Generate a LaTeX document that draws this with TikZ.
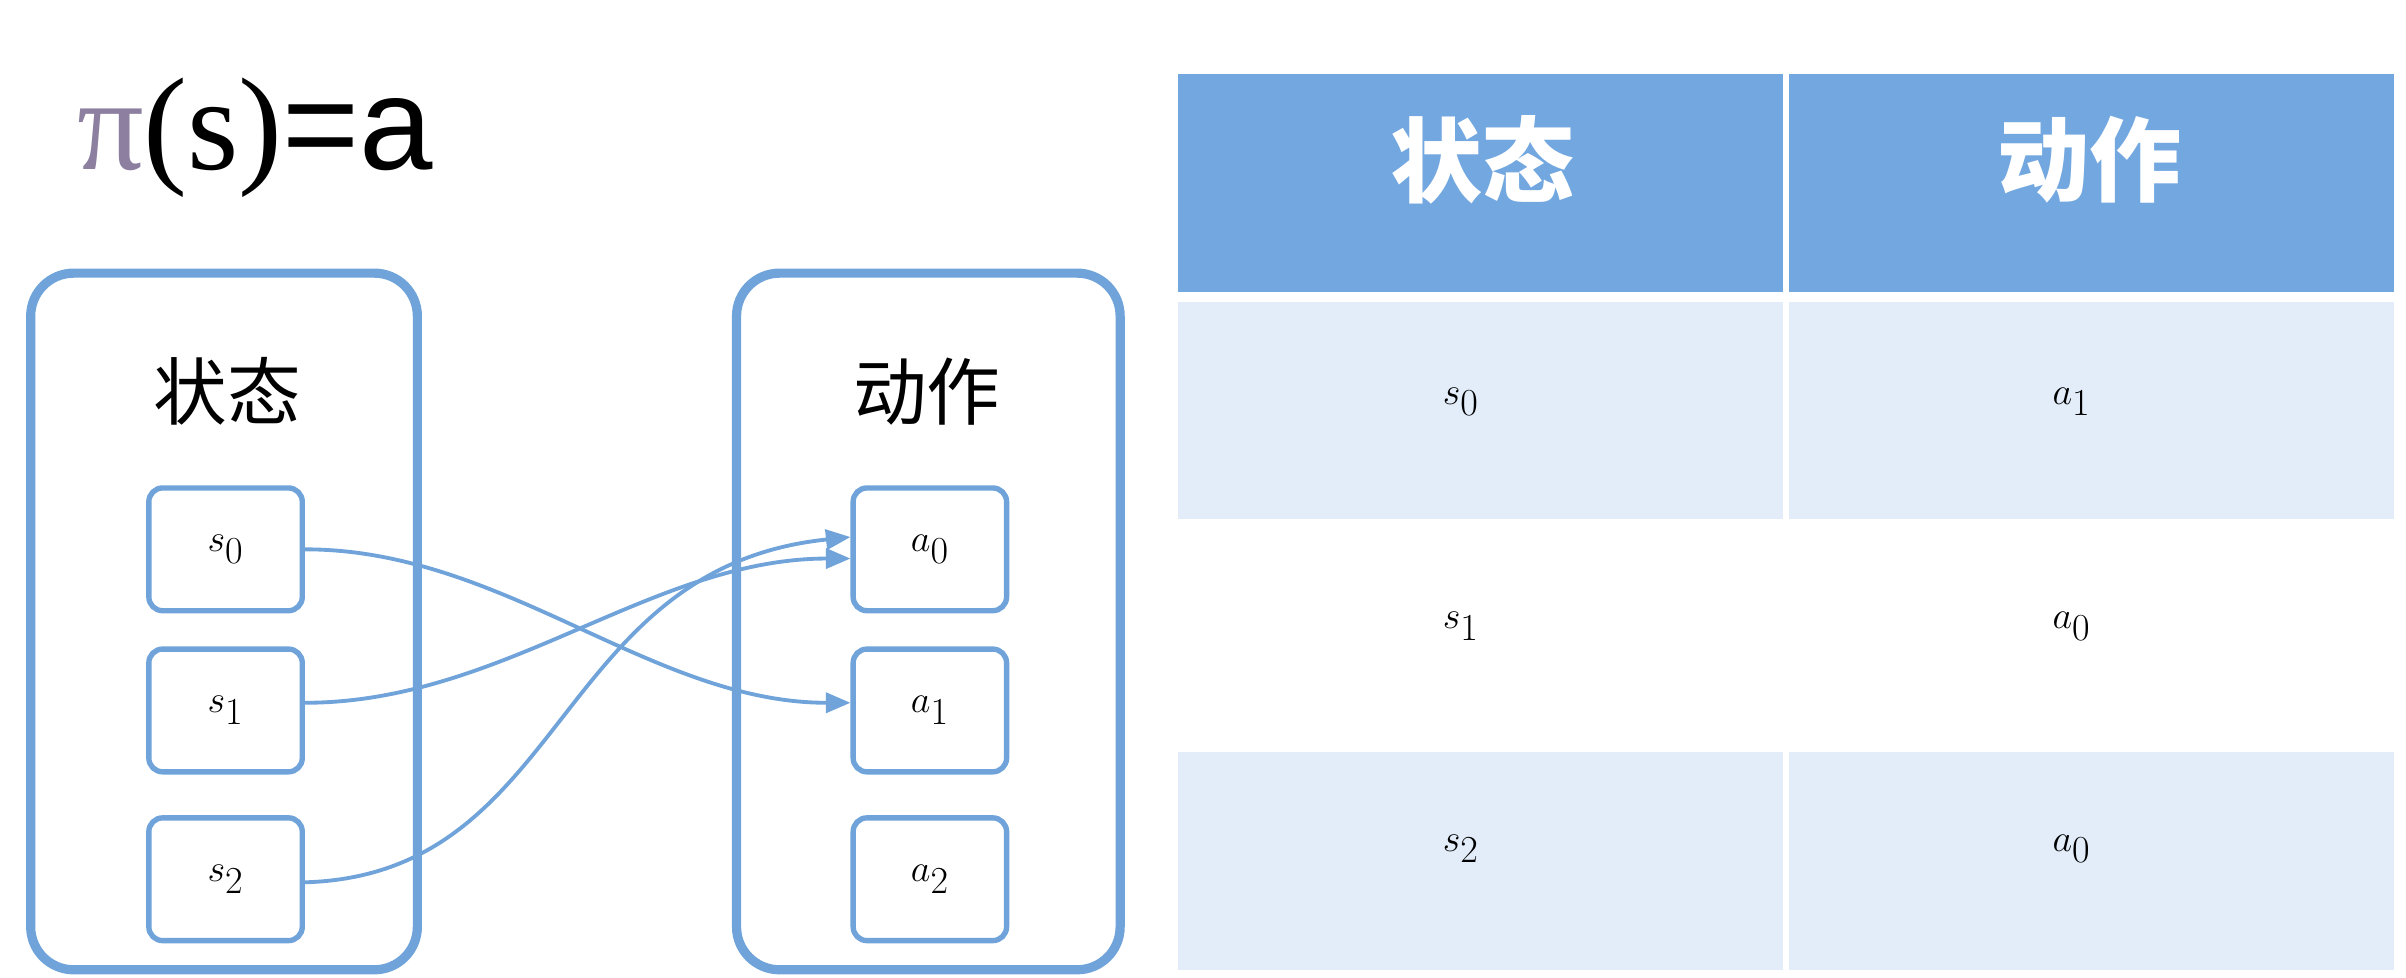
\documentclass[tikz,border=0pt]{standalone}
\usepackage{fontspec}
\usetikzlibrary{arrows.meta}
\setmainfont{Liberation Serif}
\newfontfamily\cjk{Noto Sans CJK SC}
\newfontfamily\lsans{Liberation Sans}
\definecolor{bl}{HTML}{6FA3D9}
\definecolor{hd}{HTML}{72A7E0}
\definecolor{lt}{HTML}{E2EDF9}
\definecolor{pic}{HTML}{8C7FA0}
\begin{document}
\begin{tikzpicture}[x=1pt,y=-1pt,
  bigbox/.style={draw=bl,line width=6pt,rounded corners=28pt},
  itembox/.style={draw=bl,line width=3.5pt,rounded corners=9pt,minimum width=100pt,minimum height=80pt,font=\fontsize{44}{48}\selectfont},
  conn/.style={draw=bl,line width=2.5pt,-{Triangle[length=16pt,width=13pt]}},
  cell/.style={font=\fontsize{80}{84}\selectfont}]
\useasboundingbox (0,0) rectangle (1568,637);
\node[anchor=west,inner sep=0] (title) at (50,90) {\fontsize{86}{90}\selectfont\textcolor{pic}{π}(s)\lsans=a};
\draw[bigbox] (20,178) rectangle (272,632);
\draw[bigbox] (480,178) rectangle (730,632);
\node (lh) at (148,255) {\cjk\fontsize{48}{52}\selectfont 状态};
\node (rh) at (604,255) {\cjk\fontsize{48}{52}\selectfont 动作};
\node[itembox] (s0) at (147,358) {$s_0$};
\node[itembox] (s1) at (147,463) {$s_1$};
\node[itembox] (s2) at (147,573) {$s_2$};
\node[itembox] (a0) at (606,358) {$a_0$};
\node[itembox] (a1) at (606,463) {$a_1$};
\node[itembox] (a2) at (606,573) {$a_2$};
\draw[conn] (s0.east) to[out=0,in=180,looseness=0.9] ([yshift=5pt]a1.west);
\draw[conn] ([yshift=5pt]s1.east) to[out=0,in=180,looseness=0.9] ([yshift=-6pt]a0.west);
\draw[conn] ([yshift=-2pt]s2.east) .. controls (370,570) and (360,370) .. ([yshift=8pt]a0.west);
% table
\fill[hd] (768,48) rectangle (1560,190);
\fill[lt] (768,197) rectangle (1560,338);
\fill[lt] (768,490) rectangle (1560,632);
\draw[white,line width=4pt] (1164,48) -- (1164,637);
\node[white,font=\cjk\bfseries\fontsize{60}{64}\selectfont] (h1) at (966,104) {状态};
\node[white,font=\cjk\bfseries\fontsize{60}{64}\selectfont] (h2) at (1362,104) {动作};
\node[cell] (c1) at (952,262) {$s_0$};
\node[cell] (c2) at (1350,262) {$a_1$};
\node[cell] (c3) at (952,408) {$s_1$};
\node[cell] (c4) at (1350,408) {$a_0$};
\node[cell] (c5) at (952,553) {$s_2$};
\node[cell] (c6) at (1350,553) {$a_0$};
\end{tikzpicture}
\end{document}
